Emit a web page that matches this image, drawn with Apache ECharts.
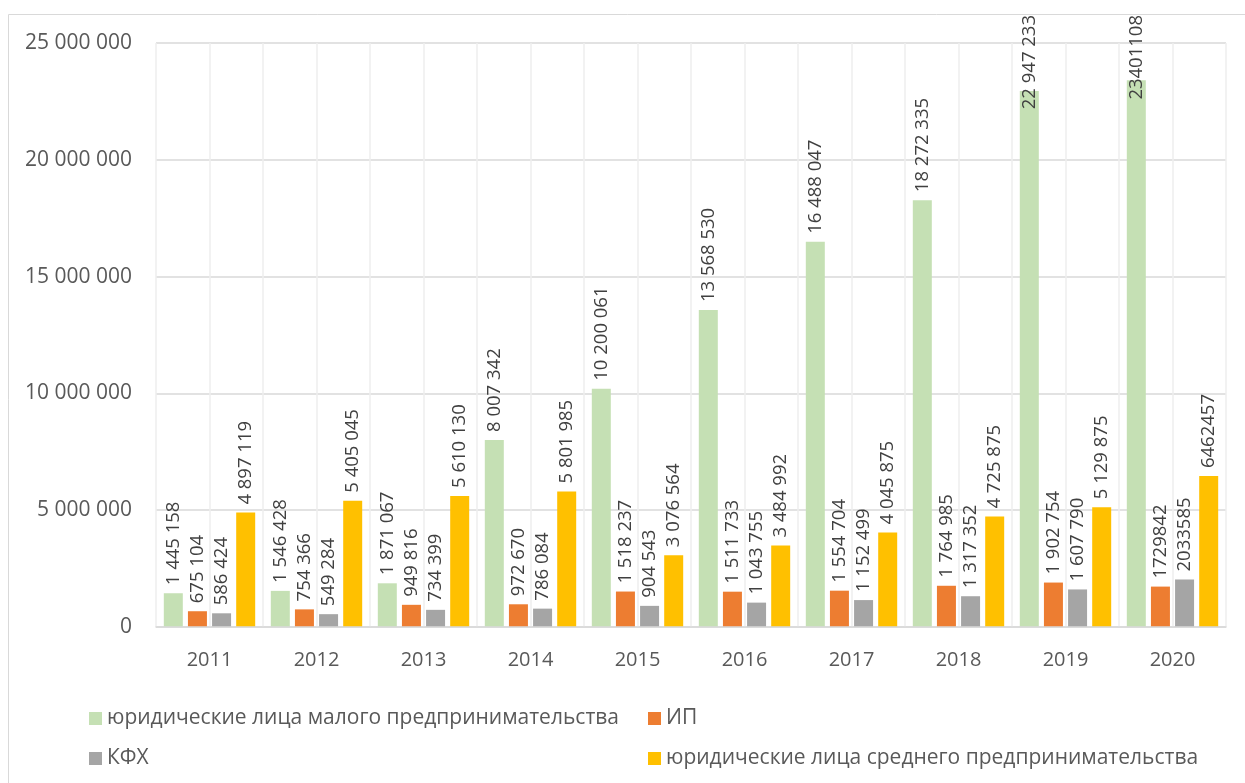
<!DOCTYPE html>
<html>
<head>
<meta charset="utf-8">
<script src="https://cdn.jsdelivr.net/npm/echarts@6/dist/echarts.min.js"></script>
<style>
html,body{margin:0;padding:0;background:#fff;}
#chart{width:1245px;height:783px;}
</style>
</head>
<body>
<div id="chart"></div>
<script>
const categories = ['2011','2012','2013','2014','2015','2016','2017','2018','2019','2020'];
const seriesNames = [
  'юридические лица малого предпринимательства',
  'ИП',
  'КФХ',
  'юридические лица среднего предпринимательства'
];
const smallLegal = [1445158, 1546428, 1871067, 8007342, 10200061, 13568530, 16488047, 18272335, 22947233, 23401108];
const ip = [675104, 754366, 949816, 972670, 1518237, 1511733, 1554704, 1764985, 1902754, 1729842];
const kfh = [586424, 549284, 734399, 786084, 904543, 1043755, 1152499, 1317352, 1607790, 2033585];
const mediumLegal = [4897119, 5405045, 5610130, 5801985, 3076564, 3484992, 4045875, 4725875, 5129875, 6462457];
// years whose data labels were written without thousands separators
const unformattedYears = ['2020'];
const yTicks = {min: 0, max: 25000000, interval: 5000000};

const colors = ['#C5E0B4', '#ED7D31', '#A5A5A5', '#FFC000'];
const FONT = 'Open Sans';

function spaced(v) {
  return String(v).replace(/\B(?=(\d{3})+(?!\d))/g, ' ');
}

const chart = echarts.init(document.getElementById('chart'));
const dataSets = [smallLegal, ip, kfh, mediumLegal];

const series = dataSets.map((d, i) => ({
  name: seriesNames[i],
  type: 'bar',
  xAxisIndex: 0,
  data: d,
  barWidth: 19,
  barGap: '27%',
  itemStyle: {color: colors[i]},
  label: {
    show: true,
    position: 'top',
    distance: 8,
    rotate: 90,
    align: 'left',
    verticalAlign: 'middle',
    fontFamily: FONT,
    fontSize: 18.5,
    color: '#404040',
    formatter: p => unformattedYears.includes(p.name) ? String(p.value) : spaced(p.value)
  },
  labelLayout: function (params) {
    const r = params.labelRect;
    const topLimit = 15;
    if (r.y < topLimit) {
      return {y: topLimit + r.height, x: r.x + r.width / 2};
    }
    return {};
  }
}));

const legendText = {fontFamily: FONT, fontSize: 21, color: '#595959', lineHeight: 20};

chart.setOption({
  animation: false,
  textStyle: {fontFamily: FONT},
  graphic: [{
    type: 'rect',
    shape: {x: 8.5, y: 14.5, width: 1300, height: 900},
    style: {fill: 'none', stroke: '#D9D9D9', lineWidth: 1},
    silent: true,
    z: -10
  }],
  grid: {left: 156, right: 19, top: 43, bottom: 156, containLabel: false},
  legend: [{
    data: [seriesNames[0], seriesNames[2]],
    orient: 'vertical',
    left: 84,
    top: 703,
    itemWidth: 13,
    itemHeight: 13,
    itemGap: 19,
    icon: 'rect',
    textStyle: legendText,
    selectedMode: false
  }, {
    data: [seriesNames[1], seriesNames[3]],
    orient: 'vertical',
    left: 643,
    top: 703,
    itemWidth: 13,
    itemHeight: 13,
    itemGap: 19,
    icon: 'rect',
    textStyle: legendText,
    selectedMode: false
  }],
  xAxis: [{
    type: 'category',
    data: categories,
    boundaryGap: true,
    axisLine: {show: true, lineStyle: {color: '#D9D9D9', width: 1.5}},
    axisTick: {show: false},
    splitLine: {show: false},
    axisLabel: {fontFamily: FONT, fontSize: 20, color: '#595959', margin: 23},
    z: 5
  }, {
    type: 'category',
    data: categories.flatMap(c => [c + 'a', c + 'b']),
    boundaryGap: true,
    position: 'bottom',
    axisLine: {show: false},
    axisTick: {show: false},
    axisLabel: {show: false},
    splitLine: {show: true, lineStyle: {color: '#EEEEEE', width: 1.5}}
  }],
  yAxis: {
    type: 'value',
    min: yTicks.min,
    max: yTicks.max,
    interval: yTicks.interval,
    axisLine: {show: false},
    axisTick: {show: false},
    splitLine: {show: true, lineStyle: {color: '#D9D9D9', width: 1.5}},
    axisLabel: {fontFamily: FONT, fontSize: 21, color: '#595959', margin: 24, formatter: v => spaced(v)}
  },
  series: series
});
</script>
</body>
</html>
